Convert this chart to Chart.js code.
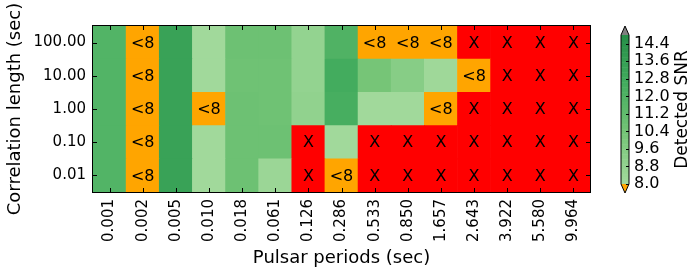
<!DOCTYPE html>
<html>
<head>
<meta charset="utf-8">
<script src="https://cdn.jsdelivr.net/npm/chart.js@4.4.0/dist/chart.umd.min.js"></script>
<style>
  html, body { margin: 0; padding: 0; background: #fff; }
  #wrap { position: relative; width: 692px; height: 275px; }
  #main { position: absolute; left: 0; top: 0; }
  #cbar { position: absolute; left: 600px; top: 0; }
</style>
</head>
<body>
<div id="wrap">
  <canvas id="main" width="692" height="275"></canvas>
  <canvas id="cbar" width="92" height="275"></canvas>
</div>
<script>
// pulsar periods along x
const periods = ["0.001", "0.002", "0.005", "0.010", "0.018", "0.061", "0.126", "0.286",
                 "0.533", "0.850", "1.657", "2.643", "3.922", "5.580", "9.964"];
// correlation lengths, bottom row first
const corrLengths = ["0.01", "0.10", "1.00", "10.00", "100.00"];

// detected SNR per correlation length ("<8" = below threshold, "X" = not detected)
const snr001 = [11.9, "<8", 13.3, 8.1, 10.7, 8.4, "X", "<8", "X", "X", "X", "X", "X", "X", "X"];
const snr010 = [11.9, "<8", 13.3, 8.1, 10.7, 10.7, "X", 8.1, "X", "X", "X", "X", "X", "X", "X"];
const snr1   = [11.9, "<8", 13.3, "<8", 10.7, 10.6, 8.9, 12.4, 8.1, 8.1, "<8", "X", "X", "X", "X"];
const snr10  = [11.9, "<8", 13.3, 8.1, 10.6, 10.6, 8.8, 12.6, 10.3, 9.4, 8.2, "<8", "X", "X", "X"];
const snr100 = [11.9, "<8", 13.3, 8.1, 10.7, 10.7, 8.8, 12.0, "<8", "<8", "<8", "X", "X", "X", "X"];
const snrRows = [snr001, snr010, snr1, snr10, snr100];

// colorbar
const snrMin = 8.0, snrMax = 14.8;
const cbTicks = [8.0, 8.8, 9.6, 10.4, 11.2, 12.0, 12.8, 13.6, 14.4];

const FONT = "'DejaVu Sans', sans-serif";
const UNDER = "#ffa500", BAD = "#ff0000", OVER = "#808080";

// matplotlib Greens stops
const greens = [[247,252,245],[229,245,224],[199,233,192],[161,217,155],[116,196,118],
                [65,171,93],[35,139,69],[0,109,44],[0,68,27]];
function greenAt(t) {
  const p = t * (greens.length - 1);
  const i = Math.min(Math.floor(p), greens.length - 2);
  const f = p - i;
  const c = greens[i].map((v, k) => Math.round(v + (greens[i + 1][k] - v) * f));
  return "rgb(" + c.join(",") + ")";
}
function snrColor(v) {
  if (v === "X") return BAD;
  if (v === "<8") return UNDER;
  const f = (v - snrMin) / (snrMax - snrMin);
  return greenAt(0.37 + f * 0.37);
}

const datasets = snrRows.map((row, r) => ({
  label: corrLengths[r],
  data: periods.map(() => [r, r + 1]),
  backgroundColor: row.map(snrColor),
  borderWidth: 0,
  grouped: false,
  barPercentage: 1,
  categoryPercentage: 1
}));

const cellText = {
  id: "cellText",
  afterDatasetsDraw(chart) {
    const ctx = chart.ctx, xs = chart.scales.x, ys = chart.scales.y;
    const a = chart.chartArea;
    ctx.save();
    ctx.fillStyle = "#000";
    ctx.textAlign = "center";
    ctx.textBaseline = "middle";
    ctx.font = "16px " + FONT;
    snrRows.forEach((row, r) => {
      row.forEach((v, i) => {
        if (typeof v === "string") {
          ctx.fillText(v, xs.getPixelForValue(i), ys.getPixelForValue(r + 0.5) + 1);
        }
      });
    });
    // inward tick marks and frame
    ctx.strokeStyle = "#000";
    ctx.lineWidth = 1;
    ctx.beginPath();
    periods.forEach((p, i) => {
      const x = Math.round(xs.getPixelForValue(i)) + 0.5;
      ctx.moveTo(x, a.top); ctx.lineTo(x, a.top + 4);
      ctx.moveTo(x, a.bottom); ctx.lineTo(x, a.bottom - 4);
    });
    corrLengths.forEach((c, r) => {
      const y = Math.round(ys.getPixelForValue(r + 0.5)) + 0.5;
      ctx.moveTo(a.left, y); ctx.lineTo(a.left + 4, y);
      ctx.moveTo(a.right, y); ctx.lineTo(a.right - 4, y);
    });
    ctx.stroke();
    ctx.strokeRect(Math.round(a.left) - 0.5, Math.round(a.top) - 0.5,
                   Math.round(a.right - a.left) + 1, Math.round(a.bottom - a.top) + 1);
    // y axis title, centred on the plot
    ctx.font = "18px " + FONT;
    ctx.translate(15, (a.top + a.bottom) / 2);
    ctx.rotate(-Math.PI / 2);
    ctx.fillText("Correlation length (sec)", 0, 0);
    ctx.restore();
  }
};

Chart.defaults.font.family = FONT;
Chart.defaults.color = "#000";

new Chart(document.getElementById("main"), {
  type: "bar",
  data: { labels: periods, datasets: datasets },
  options: {
    responsive: false,
    devicePixelRatio: 1,
    animation: false,
    layout: { padding: { left: 34, right: 102, top: 26, bottom: 6 } },
    plugins: { legend: { display: false }, tooltip: { enabled: false } },
    scales: {
      x: {
        grid: { display: false, drawTicks: false },
        border: { display: false },
        afterFit(axis) { axis.height = 77; },
        ticks: { font: { size: 15 }, maxRotation: 90, minRotation: 90, padding: 7, autoSkip: false },
        title: { display: true, text: "Pulsar periods (sec)", font: { size: 18 }, padding: { top: 5, bottom: 0 } }
      },
      y: {
        min: 0, max: 5,
        grid: { display: false, drawTicks: false },
        border: { display: false },
        afterBuildTicks(axis) { axis.ticks = corrLengths.map((c, r) => ({ value: r + 0.5 })); },
        afterFit(axis) { axis.width = 59; },
        ticks: { font: { size: 15 }, padding: 7, callback: (v, i) => corrLengths[i] }
      }
    }
  },
  plugins: [cellText]
});

// colorbar: the colormap painted along its own linear scale
const cbarDraw = {
  id: "cbarDraw",
  beforeDatasetsDraw(chart) {
    const ctx = chart.ctx, a = chart.chartArea, ys = chart.scales.y;
    const cx = (a.left + a.right) / 2;
    ctx.save();
    const steps = 60;
    for (let k = 0; k < steps; k++) {
      const v0 = snrMin + (snrMax - snrMin) * k / steps;
      const v1 = snrMin + (snrMax - snrMin) * (k + 1) / steps;
      const y0 = ys.getPixelForValue(v0), y1 = ys.getPixelForValue(v1);
      ctx.fillStyle = snrColor((v0 + v1) / 2);
      ctx.fillRect(a.left, y1, a.right - a.left, y0 - y1 + 0.5);
    }
    const h = 9;
    ctx.fillStyle = OVER;
    ctx.beginPath();
    ctx.moveTo(a.left, a.top); ctx.lineTo(cx, a.top - h); ctx.lineTo(a.right, a.top); ctx.closePath();
    ctx.fill();
    ctx.fillStyle = UNDER;
    ctx.beginPath();
    ctx.moveTo(a.left, a.bottom); ctx.lineTo(cx, a.bottom + h); ctx.lineTo(a.right, a.bottom); ctx.closePath();
    ctx.fill();
    ctx.strokeStyle = "#000";
    ctx.lineWidth = 1;
    ctx.beginPath();
    ctx.moveTo(a.left, a.bottom); ctx.lineTo(cx, a.bottom + h); ctx.lineTo(a.right, a.bottom);
    ctx.lineTo(a.right, a.top); ctx.lineTo(cx, a.top - h); ctx.lineTo(a.left, a.top); ctx.closePath();
    ctx.stroke();
    ctx.beginPath();
    cbTicks.forEach(t => {
      const y = Math.round(ys.getPixelForValue(t)) + 0.5;
      ctx.moveTo(a.right, y); ctx.lineTo(a.right - 3, y);
    });
    ctx.stroke();
    ctx.fillStyle = "#000";
    ctx.font = "17px " + FONT;
    ctx.translate(83, (a.top + a.bottom) / 2);
    ctx.rotate(-Math.PI / 2);
    ctx.textAlign = "center";
    ctx.textBaseline = "middle";
    ctx.fillText("Detected SNR", 0, 0);
    ctx.restore();
  }
};

new Chart(document.getElementById("cbar"), {
  type: "bar",
  data: { labels: [""], datasets: [{ data: [], backgroundColor: "transparent" }] },
  options: {
    responsive: false,
    devicePixelRatio: 1,
    animation: false,
    layout: { padding: { left: 21, right: 0, top: 35, bottom: 91 } },
    plugins: { legend: { display: false }, tooltip: { enabled: false } },
    scales: {
      x: { display: false },
      y: {
        position: "right",
        min: snrMin, max: snrMax,
        grid: { display: false, drawTicks: false },
        border: { display: false },
        afterBuildTicks(axis) { axis.ticks = cbTicks.map(v => ({ value: v })); },
        afterFit(axis) { axis.width = 63; },
        ticks: { font: { size: 16 }, padding: 5, autoSkip: false, callback: v => v.toFixed(1) }
      }
    }
  },
  plugins: [cbarDraw]
});
</script>
</body>
</html>
